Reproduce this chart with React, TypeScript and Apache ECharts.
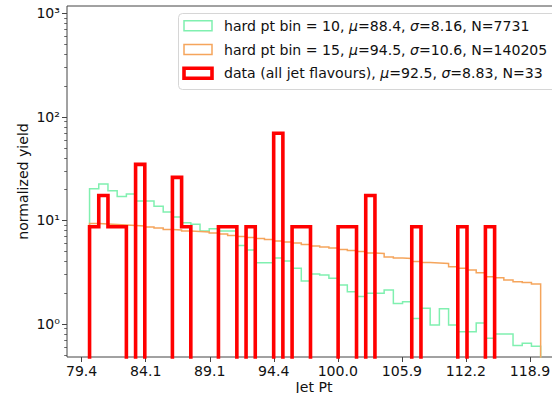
import React, { useEffect, useRef } from "react";
import * as echarts from "echarts";

// ---- data ----
const PT_LO = 80;
const PT_HI = 120;
const N_BINS = 49; // log-spaced bins between PT_LO and PT_HI

const xTickPts = [79.43, 84.14, 89.13, 94.41, 100.0, 105.93, 112.2, 118.85];
const yTickExps = [0, 1, 2, 3];
const yTickLabels = ["10⁰", "10¹", "10²", "10³"];

const greenYield = [
  20.2, 22.5, 19.4, 17.0, 18.0, 15.4, 15.4, 13.7, 12.1, 10.8, 9.5, 9.2, 7.9, 8.3, 7.9, 7.9,
  5.73, 5.19, 3.91, 3.91, 4.34, 4.06, 3.45, 2.6, 3.04, 2.97, 2.77, 2.38, 2.05, 1.84, 1.98, 1.98,
  2.13, 1.58, 1.64, 1.13, 1.42, 0.98, 1.4, 0.98, 0.84, 0.84, 1.02, 0.73, 0.8, 0.8, 0.62, 0.65, 0.61,
];
const orangeYield = [
  9.35, 9.25, 9.15, 9.05, 8.95, 8.85, 8.65, 8.47, 8.19, 8.1, 7.92, 7.83, 7.74, 7.57, 7.41, 7.17,
  7.0, 6.85, 6.7, 6.55, 6.34, 6.2, 6.06, 5.86, 5.67, 5.55, 5.42, 5.25, 5.13, 5.02, 4.85, 4.8,
  4.44, 4.34, 4.29, 4.02, 3.93, 3.88, 3.84, 3.58, 3.45, 3.32, 3.13, 2.86, 2.8, 2.66, 2.56, 2.51, 2.43,
];
const dataYield = [
  8.7, 17.4, 8.7, 8.7, 0, 34.8, 0, 0, 0, 26.1, 8.7, 0, 0, 0, 8.7, 8.7,
  0, 8.7, 0, 0, 69.6, 0, 8.7, 8.7, 0, 0, 0, 8.7, 8.7, 0, 17.4, 0,
  0, 0, 0, 8.7, 0, 0, 0, 0, 8.7, 0, 0, 8.7, 0, 0, 0, 0, 0,
];

const seriesNames = [
  "hard pt bin = 10, {i|μ}=88.4, {i|σ}=8.16, N=7731",
  "hard pt bin = 15, {i|μ}=94.5, {i|σ}=10.6, N=140205",
  "data (all jet flavours), {i|μ}=92.5, {i|σ}=8.83, N=33",
];
const seriesColors = ["#80f0b0", "#f5a55c", "#ff0000"];
const seriesWidths = [1.5, 1.5, 3.6];

// ---- helpers ----
const FONT = "DejaVu Sans";
const FS = 14.1;
const lgLo = Math.log10(PT_LO);
const lgHi = Math.log10(PT_HI);
const binEdges = Array.from({ length: N_BINS + 1 }, (_, i) => lgLo + ((lgHi - lgLo) * i) / N_BINS);
const X_MIN = lgLo - 0.05 * (lgHi - lgLo);
const X_MAX = lgHi + 0.05 * (lgHi - lgLo);
const Y_MIN = -0.319;
const Y_MAX = 3.072;
const FLOOR = -6;

function stepPoints(values: number[]) {
  const pts: number[][] = [[binEdges[0], FLOOR]];
  values.forEach((v, i) => {
    const y = v > 0 ? Math.log10(v) : FLOOR;
    pts.push([binEdges[i], y], [binEdges[i + 1], y]);
  });
  pts.push([binEdges[N_BINS], FLOOR]);
  return pts;
}

const xTickVals = xTickPts.map((p) => Math.log10(p));
const yMinor: number[] = [];
for (let n = -1; n <= 3; n++) {
  for (let m = 2; m <= 9; m++) {
    const v = Math.log10(m * Math.pow(10, n));
    if (v > Y_MIN && v < Y_MAX) yMinor.push(v);
  }
}

export default function App() {
  const ref = useRef<HTMLDivElement>(null);
  useEffect(() => {
    if (!ref.current) return;
    const chart = echarts.init(ref.current, null, { renderer: "svg" });
    const allSeries = [greenYield, orangeYield, dataYield];
    const rows = [25.7, 49.5, 73.3];
    const legendGraphics: any[] = [
      {
        type: "rect",
        z: 100,
        shape: { x: 178.5, y: 13.5, width: 420, height: 76, r: 4 },
        style: { fill: "rgba(255,255,255,0.8)", stroke: "#d6d6d6", lineWidth: 1 },
      },
    ];
    rows.forEach((cy, i) => {
      legendGraphics.push({
        type: "rect",
        z: 101,
        shape: { x: 184, y: cy - 5, width: 28, height: 10 },
        style: { fill: "none", stroke: seriesColors[i], lineWidth: seriesWidths[i] },
      });
      legendGraphics.push({
        type: "text",
        z: 101,
        x: 224,
        y: cy,
        style: {
          text: seriesNames[i],
          fontFamily: FONT,
          fontSize: FS,
          fill: "#111",
          verticalAlign: "middle",
          align: "left",
          rich: { i: { fontStyle: "italic", fontFamily: FONT, fontSize: FS, fill: "#111" } },
        },
      });
    });

    chart.setOption({
      animation: false,
      grid: {
        left: 67,
        top: 6,
        width: 496.2,
        height: 351,
        containLabel: false,
        outerBoundsMode: "none",
        show: true,
        borderColor: "#444",
        borderWidth: 1,
        backgroundColor: "transparent",
      },
      xAxis: {
        type: "value",
        min: X_MIN,
        max: X_MAX,
        axisLine: { show: false, onZero: false },
        splitLine: { show: false },
        axisTick: {
          show: true,
          customValues: xTickVals,
          length: 5,
          lineStyle: { color: "#444", width: 1 },
        },
        axisLabel: {
          customValues: xTickVals,
          formatter: (v: number) => Math.pow(10, v).toFixed(1),
          fontFamily: FONT,
          fontSize: FS,
          color: "#111",
          margin: 7,
        },
      },
      yAxis: [
        {
          type: "value",
          min: Y_MIN,
          max: Y_MAX,
          axisLine: { show: false, onZero: false },
          splitLine: { show: false },
          axisTick: {
            show: true,
            customValues: yTickExps,
            length: 5,
            lineStyle: { color: "#444", width: 1 },
          },
          axisLabel: {
            customValues: yTickExps,
            formatter: (v: number) => yTickLabels[yTickExps.indexOf(Math.round(v))] ?? "",
            fontFamily: FONT,
            fontSize: FS,
            color: "#111",
            margin: 7,
          },
        },
        {
          type: "value",
          min: Y_MIN,
          max: Y_MAX,
          position: "left",
          axisLine: { show: false, onZero: false },
          splitLine: { show: false },
          axisLabel: { show: false },
          axisTick: {
            show: true,
            customValues: yMinor,
            length: 2.8,
            lineStyle: { color: "#444", width: 0.8 },
          },
        },
      ],
      series: allSeries.map((vals, i) => ({
        type: "line",
        name: seriesNames[i],
        data: stepPoints(vals),
        showSymbol: false,
        symbol: "none",
        clip: true,
        z: 2 + i,
        lineStyle: { color: seriesColors[i], width: seriesWidths[i], join: "miter", cap: "butt" },
      })),
      graphic: [
        {
          type: "text",
          x: 22.5,
          y: 181.5,
          rotation: Math.PI / 2,
          style: {
            text: "normalized yield",
            fontFamily: FONT,
            fontSize: FS,
            fill: "#111",
            align: "center",
            verticalAlign: "middle",
          },
        },
        {
          type: "text",
          x: 314,
          y: 379.5,
          style: {
            text: "Jet Pt",
            fontFamily: FONT,
            fontSize: FS,
            fill: "#111",
            align: "center",
            verticalAlign: "top",
          },
        },
        ...legendGraphics,
      ],
    });
    return () => chart.dispose();
  }, []);
  return <div ref={ref} style={{ width: 552, height: 393, position: "absolute", left: 0, top: 0 }} />;
}
